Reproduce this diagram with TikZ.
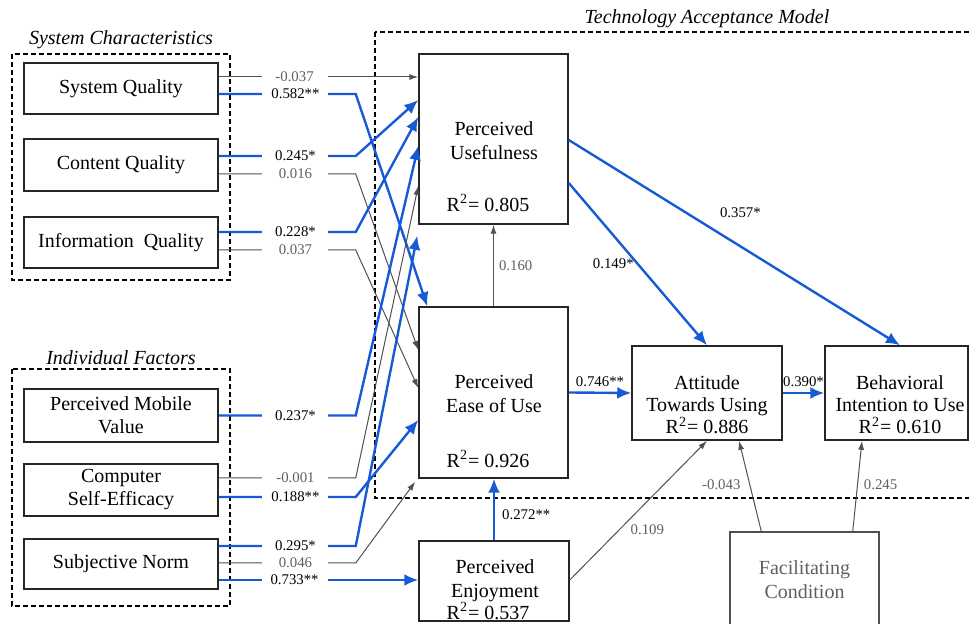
\documentclass[tikz,border=0pt]{standalone}
\usepackage{fontspec}
\setmainfont{Liberation Serif}
\usetikzlibrary{calc,arrows.meta}

\definecolor{sigblue}{RGB}{22,90,214}
\definecolor{nsgray}{RGB}{80,80,80}
\definecolor{lblgray}{RGB}{95,95,95}

\tikzstyle{box} = [draw=black!85, line width=0.75pt, inner sep=0pt, align=center, font=\fontsize{10}{11.5}\selectfont]
\tikzstyle{txt} = [align=center, inner sep=0pt, font=\fontsize{10}{12}\selectfont]
\tikzstyle{grp} = [line width=0.6pt, dash pattern=on 2.5pt off 1.5pt]
\tikzstyle{grptitle} = [font=\fontsize{10}{12}\selectfont\itshape]
\tikzstyle{sig} = [draw=sigblue, line width=1.2pt, -{Latex[length=7pt,width=6pt]}]
\tikzstyle{ns} = [draw=nsgray, line width=0.5pt, -{Latex[length=4.5pt,width=3pt]}]
\tikzstyle{coef} = [inner sep=0.5pt, font=\fontsize{7.4}{9}\selectfont]
\tikzstyle{gap} = [coef, fill=white, minimum width=33pt]

\begin{document}
\begin{tikzpicture}[x=0.5pt, y=-0.5pt]

\useasboundingbox (0,0) rectangle (969,624);

% groups
\draw [grp] (12,54) rectangle (230,280);
\draw [grp] (12,369) rectangle (230,606);
\draw [grp] (375,32) rectangle (990,498);
\node[grptitle] (sctitle) at (121,40) {System Characteristics};
\node[grptitle] (iftitle) at (121,358) {Individual Factors};
\node[grptitle] (tamtitle) at (707,19) {Technology Acceptance Model};

% external variables
\node[box, minimum width=97pt, minimum height=25.5pt] (sq) at (121,88.5) {System Quality};
\node[box, minimum width=97pt, minimum height=26pt] (cq) at (121,165) {Content Quality};
\node[box, minimum width=97pt, minimum height=25.5pt] (iq) at (121,242.5) {Information~ Quality};
\node[box, minimum width=97pt, minimum height=26.5pt] (pmv) at (121,415.5) {Perceived Mobile\\Value};
\node[box, minimum width=97pt, minimum height=26pt] (cse) at (121,490) {Computer\\Self-Efficacy};
\node[box, minimum width=97pt, minimum height=25pt] (sn) at (121,564) {Subjective Norm};

% TAM constructs
\node[box, minimum width=74.5pt, minimum height=85pt] (pu) at (493.5,139) {};
\node[txt] (putxt) at (494,141) {Perceived\\Usefulness};
\node[txt] (pur) at (488,203) {R\textsuperscript{2}= 0.805};

\node[box, minimum width=74.5pt, minimum height=85.5pt] (peou) at (493.5,392.5) {};
\node[txt] (peoutxt) at (494,394) {Perceived\\Ease of Use};
\node[txt] (peour) at (488,459) {R\textsuperscript{2}= 0.926};

\node[box, minimum width=75pt, minimum height=47pt] (atu) at (707,393) {};
\node[txt, font=\fontsize{10}{11}\selectfont] (atutxt) at (707,405) {Attitude\\Towards Using\\R\textsuperscript{2}= 0.886};

\node[box, minimum width=71.5pt, minimum height=47pt] (bi) at (896.5,393) {};
\node[txt, font=\fontsize{10}{11}\selectfont] (bitxt) at (900,405) {Behavioral\\Intention to Use\\R\textsuperscript{2}= 0.610};

\node[box, minimum width=75pt, minimum height=40pt] (pe) at (494,581) {};
\node[txt] (petxt) at (495,581) {Perceived\\Enjoyment};
\node[txt] (per) at (488,611) {R\textsuperscript{2}= 0.537};

\node[box, draw=nsgray, text=lblgray, minimum width=74.5pt, minimum height=48pt, font=\fontsize{10}{12}\selectfont] (fc) at (804.5,580) {Facilitating\\Condition};

% paths from external variables
\draw[ns] ($(sq.east)+(0,-11.5)$) -- node[gap, pos=.38, text=lblgray] {-0.037} ($(pu.west)+(0,-62)$);
\draw[sig] ($(sq.east)+(0,5.5)$) -- node[gap, pos=.56] {0.582**} ++(137,0) -- ($(peou.north west)+(9,0)$);
\draw[sig] ($(cq.east)+(0,-9)$) -- node[gap, pos=.56] {0.245*} ++(137,0) -- ($(pu.west)+(0,-39)$);
\draw[ns] ($(cq.east)+(0,9)$) -- node[gap, pos=.56, text=lblgray] {0.016} ++(137,0) -- ($(peou.west)+(0,-42.5)$);
\draw[sig] ($(iq.east)+(0,-10.5)$) -- node[gap, pos=.56] {0.228*} ++(137,0) -- ($(pu.west)+(0,-22)$);
\draw[ns] ($(iq.east)+(0,7.5)$) -- node[gap, pos=.56, text=lblgray] {0.037} ++(137,0) -- ($(peou.west)+(0,-4.5)$);
\draw[sig] (pmv.east) -- node[gap, pos=.56] {0.237*} ++(137,0) -- ($(pu.west)+(0,7)$);
\draw[ns] ($(cse.east)+(0,-12)$) -- node[gap, pos=.56, text=lblgray] {-0.001} ++(137,0) -- ($(pu.west)+(0,47)$);
\draw[sig] ($(cse.east)+(0,7)$) -- node[gap, pos=.56] {0.188**} ++(137,0) -- ($(peou.west)+(0,27.5)$);
\draw[sig] ($(sn.east)+(0,-18)$) -- node[gap, pos=.56] {0.295*} ++(137,0) -- ($(pu.south west)+(-1,11)$);
\draw[ns] ($(sn.east)+(0,-1)$) -- node[gap, pos=.56, text=lblgray] {0.046} ++(137,0) -- ($(peou.south west)+(-3,3)$);
\draw[sig] ($(sn.east)+(0,16)$) -- node[gap, pos=.38] {0.733**} ($(pe.west)+(0,-1)$);

% paths inside the model
\draw[ns] (peou.north) -- node[coef, right=2pt, text=lblgray] {0.160} (pu.south);
\draw[sig] (pe.north) -- node[coef, pos=.41, right=3pt] {0.272**} (pe.north |- peou.south);
\draw[sig] (peou.east) -- node[coef, above=2pt] {0.746**} (atu.west);
\draw[sig] (atu.east) -- node[coef, above=2pt] {0.390*} (bi.west);
\draw[sig] ($(pu.east)+(0,44)$) -- node[coef, pos=.5, left=1pt] {0.149*} (atu.north);
\draw[sig] ($(pu.east)+(0,1)$) -- node[coef, pos=.45, anchor=south west, yshift=6pt] {0.357*} ($(bi.north)+(3.5,0)$);
\draw[ns] ($(pe.east)+(0,-1)$) -- node[coef, pos=.36, right=5pt, text=lblgray] {0.109} (atu.south);
\draw[ns] ($(fc.north west)+(32,0)$) -- node[coef, pos=.51, left=4pt, text=lblgray] {-0.043} ($(atu.south)+(32,0)$);
\draw[ns] ($(fc.north east)+(-27,0)$) -- node[coef, pos=.51, right=2.5pt, text=lblgray] {0.245} ($(bi.south)+(-34.5,0)$);

\end{tikzpicture}
\end{document}
